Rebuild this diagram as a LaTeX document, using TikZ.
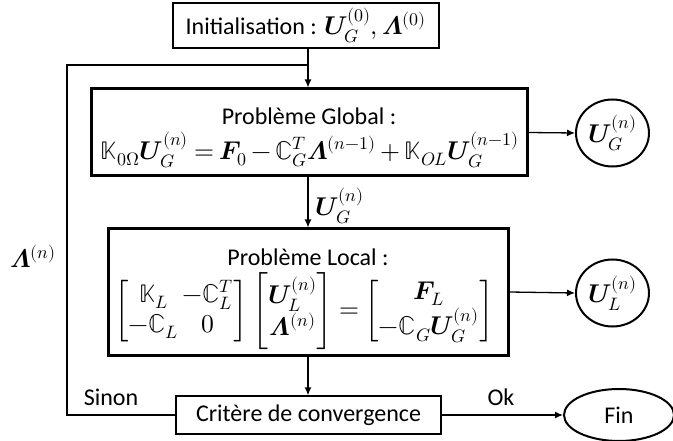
\documentclass[tikz,border=0pt]{standalone}
\usepackage{amsmath}
\usepackage{unicode-math}
\setmainfont{Carlito}
\setmathfont{Latin Modern Math}[Scale=1.07]
\usetikzlibrary{arrows.meta,shapes.geometric}
\begin{document}
\begin{tikzpicture}[x=1pt,y=-1pt,
  font=\fontsize{24}{30}\selectfont,
  thinbox/.style={draw, line width=1.3pt, inner sep=0pt, align=center},
  thickbox/.style={draw, line width=3pt, inner sep=0pt},
  circ/.style={draw, ellipse, line width=2pt, inner sep=0pt, minimum width=73pt, minimum height=67pt},
  ln/.style={line width=1.3pt},
  arr/.style={ln, -{Latex[length=8pt,width=7pt]}},
  lbl/.style={inner sep=0pt},
  eqn/.style={inner sep=0pt, execute at begin node={\thickmuskip=4mu\medmuskip=3mu\setlength\arraycolsep{2pt}\renewcommand\arraystretch{1.0}}}]
\useasboundingbox (0,0) rectangle (673,441);
\node[thinbox, minimum width=266pt, minimum height=45pt] (init) at (306,25.5)
  {Initialisation : $\symbfit{U}_G^{(0)}, \symbfit{\Lambda}^{(0)}$};
\node[thickbox, minimum width=436pt, minimum height=87pt] (glob) at (309,132.5) {};
\node[lbl] (globt) at (309,116) {Problème Global :};
\node[eqn] (globe) at (310,150)
  {$\symbb{K}_{0\mupOmega}\symbfit{U}_G^{(n)} = \symbfit{F}_0 - \symbb{C}_G^T\symbfit{\Lambda}^{(n-1)} + \symbb{K}_{OL}\symbfit{U}_G^{(n-1)}$};
\node[thickbox, minimum width=400pt, minimum height=126pt] (loc) at (308,292) {};
\node[lbl] (loct) at (308,257) {Problème Local :};
\node[eqn] (loce) at (304,311)
  {$\begin{bmatrix} \symbb{K}_L & -\symbb{C}_L^T \\ -\symbb{C}_L & 0 \end{bmatrix}
    \begin{bmatrix} \symbfit{U}_L^{(n)} \\ \symbfit{\Lambda}^{(n)} \end{bmatrix}
    = \begin{bmatrix} \symbfit{F}_L \\ -\symbb{C}_G\symbfit{U}_G^{(n)} \end{bmatrix}$};
\node[thinbox, minimum width=265pt, minimum height=38pt] (crit) at (308.5,415)
  {Critère de convergence};
\node[circ] (ug) at (612.5,133) {$\symbfit{U}_G^{(n)}$};
\node[circ] (ul) at (612.5,293) {$\symbfit{U}_L^{(n)}$};
\node[draw, ellipse, line width=2pt, inner sep=0pt, minimum width=110pt, minimum height=52pt] (fin) at (619,415) {Fin};
\node[lbl] (lam) at (33,256) {$\symbfit{\Lambda}^{(n)}$};
\node[lbl] (ugl) at (340,206) {$\symbfit{U}_G^{(n)}$};
\node[lbl] (sinon) at (111,397) {Sinon};
\node[lbl] (ok) at (501,397) {Ok};
\coordinate (j) at (308,65);
\coordinate (lc) at (67,65);
\draw[arr] (init.south -| j) -- (glob.north -| j);
\draw[arr] (glob.south -| j) -- (loc.north -| j);
\draw[arr] (loc.south -| j) -- (crit.north -| j);
\draw[ln] (crit.west) -| (lc) -- (j);
\draw[arr] (glob.east) -- (ug.west);
\draw[arr] (loc.east) -- (ul.west);
\draw[arr] (crit.east) -- (fin.west);
\end{tikzpicture}
\end{document}
